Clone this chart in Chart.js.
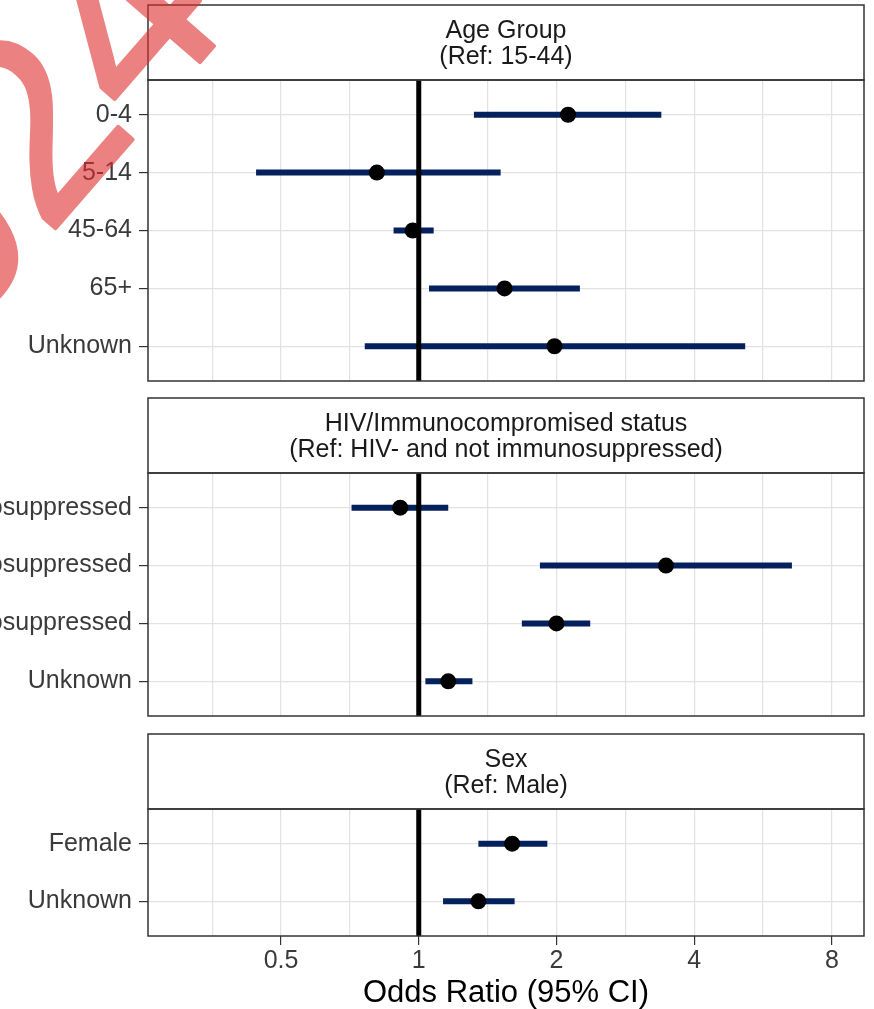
<!DOCTYPE html>
<html>
<head>
<meta charset="utf-8">
<script src="https://cdn.jsdelivr.net/npm/chart.js@4.4.1/dist/chart.umd.min.js"></script>
<style>
  html, body { margin: 0; padding: 0; background: #fff; }
  body { width: 874px; height: 1009px; position: relative; overflow: hidden; }
  canvas { position: absolute; left: 0; }
</style>
</head>
<body>
<canvas id="ageChart" width="874" height="384" style="top:0px"></canvas>
<canvas id="hivChart" width="874" height="330" style="top:390px"></canvas>
<canvas id="sexChart" width="874" height="284" style="top:725px"></canvas>
<script>
// ---- data (odds ratios with 95% CI) ----
const ageLabels = ['0-4', '5-14', '45-64', '65+', 'Unknown'];
const ageOR     = [2.12, 0.81, 0.97, 1.54, 1.98];
const ageLow    = [1.32, 0.441, 0.881, 1.053, 0.762];
const ageHigh   = [3.39, 1.51, 1.078, 2.25, 5.17];

const hivLabels = ['HIV- and immunosuppressed', 'HIV+ and immunosuppressed', 'HIV+ and not immunosuppressed', 'Unknown'];
const hivOR     = [0.911, 3.47, 2.0, 1.16];
const hivLow    = [0.713, 1.84, 1.68, 1.034];
const hivHigh   = [1.16, 6.54, 2.37, 1.31];

const sexLabels = ['Female', 'Unknown'];
const sexOR     = [1.60, 1.35];
const sexLow    = [1.35, 1.13];
const sexHigh   = [1.91, 1.62];

const ageStrip = ['Age Group', '(Ref: 15-44)'];
const hivStrip = ['HIV/Immunocompromised status', '(Ref: HIV- and not immunosuppressed)'];
const sexStrip = ['Sex', '(Ref: Male)'];

const refOR = 1;
const xMajorTicks = [0.5, 1, 2, 4, 8];
const xMinorTicks = [0.354, 0.707, 1.414, 2.828, 5.657];
const xMin = 0.256;
const xMax = 9.4;

const NAVY = '#04215e';
const FONT = "'Liberation Sans', Arial, Helvetica, sans-serif";
Chart.defaults.font.family = FONT;

// strip header + panel border, ggplot style
const panelFrame = {
    id: 'panelFrame',
    afterDraw(chart, args, opts) {
        const { ctx, chartArea: a } = chart;
        const stripH = 75;
        ctx.save();
        ctx.fillStyle = '#fff';
        ctx.fillRect(a.left, a.top - stripH, a.right - a.left, stripH);
        ctx.strokeStyle = '#333';
        ctx.lineWidth = 1.5;
        ctx.strokeRect(a.left, a.top - stripH, a.right - a.left, stripH);
        ctx.strokeRect(a.left, a.top, a.right - a.left, a.bottom - a.top);
        ctx.fillStyle = '#1a1a1a';
        ctx.font = '25px ' + FONT;
        ctx.textAlign = 'center';
        ctx.textBaseline = 'alphabetic';
        const cx = (a.left + a.right) / 2;
        (opts.lines || []).forEach((t, i) => {
            ctx.fillText(t, cx, a.top - stripH + 33 + i * 26);
        });
        ctx.restore();
    }
};

// faint red stamp in the top-left corner
const watermark = {
    id: 'watermark',
    afterDraw(chart) {
        const off = document.createElement('canvas');
        off.width = chart.width;
        off.height = chart.height;
        const o = off.getContext('2d');
        o.translate(47, 238);
        o.rotate(-49 * Math.PI / 180);
        o.font = '258px ' + FONT;
        o.textBaseline = 'alphabetic';
        o.fillStyle = 'rgb(222, 45, 45)';
        o.strokeStyle = 'rgb(222, 45, 45)';
        o.lineWidth = 4;
        o.lineJoin = 'round';
        const lead = o.measureText('20').width;
        o.fillText('2024', -lead, 0);
        o.strokeText('2024', -lead, 0);

        const ctx = chart.ctx;
        ctx.save();
        ctx.globalAlpha = 0.6;
        ctx.drawImage(off, 0, 0);
        ctx.restore();
    }
};

function makePanel(id, labels, or, lo, hi, strip, cfg) {
    const n = labels.length;
    const yMin = 0.4, yMax = n + 0.6;
    const rows = labels.map((_, i) => i + 1);

    const datasets = [{
        data: rows.map((r, i) => ({ x: or[i], y: r })),
        pointRadius: 8,
        pointHoverRadius: 8,
        backgroundColor: '#000',
        borderWidth: 0,
        order: 0
    }, {
        data: [{ x: refOR, y: yMin }, { x: refOR, y: yMax }],
        showLine: true,
        borderColor: '#000',
        borderWidth: 5,
        pointRadius: 0,
        order: 1
    }];
    rows.forEach((r, i) => {
        datasets.push({
            data: [{ x: lo[i], y: r }, { x: hi[i], y: r }],
            showLine: true,
            borderColor: NAVY,
            borderWidth: 6,
            borderCapStyle: 'butt',
            pointRadius: 0,
            order: 2
        });
    });

    const allTicks = xMinorTicks.concat(xMajorTicks).sort((a, b) => a - b);
    const isMajor = v => xMajorTicks.includes(v);

    return new Chart(document.getElementById(id), {
        type: 'scatter',
        data: { datasets },
        plugins: cfg.extraPlugins ? [panelFrame].concat(cfg.extraPlugins) : [panelFrame],
        options: {
            responsive: false,
            animation: false,
            events: [],
            layout: {
                autoPadding: false,
                padding: { left: 0, right: 10, top: cfg.padTop, bottom: cfg.padBottom }
            },
            plugins: {
                legend: { display: false },
                tooltip: { enabled: false },
                panelFrame: { lines: strip }
            },
            scales: {
                x: {
                    type: 'logarithmic',
                    min: xMin,
                    max: xMax,
                    afterBuildTicks: s => { s.ticks = allTicks.map(v => ({ value: v })); },
                    afterFit: s => { s.height = cfg.xHeight; s.paddingLeft = 0; s.paddingRight = 0; },
                    grid: {
                        color: '#e2e2e2',
                        lineWidth: 1.2,
                        drawTicks: cfg.showX,
                        tickLength: 9,
                        tickWidth: 1.2,
                        tickColor: c => (c.tick && isMajor(c.tick.value)) ? '#333' : 'rgba(0,0,0,0)'
                    },
                    border: { display: false },
                    ticks: {
                        display: cfg.showX,
                        autoSkip: false,
                        maxRotation: 0,
                        padding: 1,
                        color: '#3a3a3a',
                        font: { size: 25 },
                        callback: v => isMajor(v) ? String(v) : ''
                    },
                    title: {
                        display: cfg.showX,
                        text: 'Odds Ratio (95% CI)',
                        color: '#000',
                        font: { size: 31, lineHeight: 1 },
                        padding: { top: 0, bottom: 0 }
                    }
                },
                y: {
                    type: 'linear',
                    reverse: true,
                    min: yMin,
                    max: yMax,
                    afterBuildTicks: s => { s.ticks = rows.map(v => ({ value: v })); },
                    afterFit: s => { s.width = 148; s.paddingTop = 0; s.paddingBottom = 0; },
                    grid: {
                        color: '#e2e2e2',
                        lineWidth: 1.2,
                        tickLength: 9,
                        tickWidth: 1.2,
                        tickColor: '#333'
                    },
                    border: { display: false },
                    ticks: {
                        autoSkip: false,
                        padding: 7,
                        color: '#3a3a3a',
                        font: { size: 25 },
                        callback: v => labels[v - 1]
                    }
                }
            }
        }
    });
}

makePanel('ageChart', ageLabels, ageOR, ageLow, ageHigh, ageStrip,
    { padTop: 80, padBottom: 3, xHeight: 0, showX: false, extraPlugins: [watermark] });
makePanel('hivChart', hivLabels, hivOR, hivLow, hivHigh, hivStrip,
    { padTop: 83, padBottom: 4, xHeight: 0, showX: false });
makePanel('sexChart', sexLabels, sexOR, sexLow, sexHigh, sexStrip,
    { padTop: 84, padBottom: 0, xHeight: 73, showX: true });
</script>
</body>
</html>
